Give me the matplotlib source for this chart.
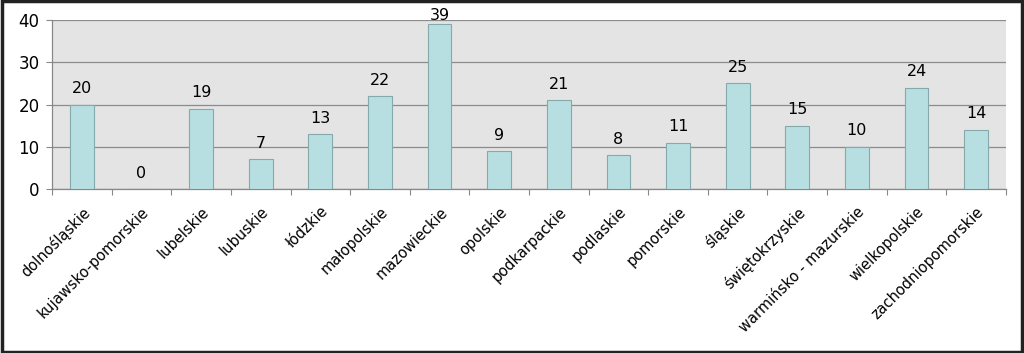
import matplotlib.pyplot as plt
import numpy as np

# dane z wykresu
wojewodztwa = ['dolnośląskie', 'kujawsko-pomorskie', 'lubelskie', 'lubuskie',
               'łódzkie', 'małopolskie', 'mazowieckie', 'opolskie',
               'podkarpackie', 'podlaskie', 'pomorskie', 'śląskie',
               'świętokrzyskie', 'warmińsko - mazurskie', 'wielkopolskie',
               'zachodniopomorskie']
wartosci = [20, 0, 19, 7, 13, 22, 39, 9, 21, 8, 11, 25, 15, 10, 24, 14]
y_ticks = [0, 10, 20, 30, 40]

plt.rcParams['font.family'] = ['DejaVu Sans']

fig = plt.figure(figsize=(10.24, 3.53), dpi=100)
ax = fig.add_axes([0.0508, 0.4646, 0.9316, 0.4787])
ax.set_facecolor('#e4e4e4')

x = np.arange(len(wojewodztwa))
bars = ax.bar(x, wartosci, width=0.4, color='#b7dee0', edgecolor='#86a9ac',
              linewidth=0.8, zorder=3)
for xi, v in zip(x, wartosci):
    # etykieta nad slupkiem, nie wyzej niz gorna krawedz wykresu
    ax.text(xi, min(v + 2, 39.3), str(v), ha='center', va='bottom',
            fontsize=11.5, zorder=4)

ax.set_xlim(-0.5, len(wojewodztwa) - 0.5)
ax.set_ylim(0, 40)
ax.set_yticks(y_ticks)
ax.tick_params(axis='y', labelsize=12, length=4, color='#888888', pad=5)
ax.yaxis.grid(True, color='#8c8c8c', linewidth=0.9, zorder=1)

# znaczniki osi x miedzy kategoriami, podpisy pod slupkami
ax.set_xticks(np.arange(len(wojewodztwa) + 1) - 0.5)
ax.set_xticklabels([])
ax.set_xticks(x, minor=True)
ax.set_xticklabels(wojewodztwa, minor=True, rotation=45, ha='right',
                   rotation_mode='anchor', fontsize=10.5)
ax.tick_params(axis='x', which='major', length=4, color='#888888')
ax.tick_params(axis='x', which='minor', length=0, pad=11)

for s in ['top', 'right']:
    ax.spines[s].set_visible(False)
for s in ['left', 'bottom']:
    ax.spines[s].set_color('#888888')
    ax.spines[s].set_linewidth(0.9)

# ramka wokol wykresu
fig.patches.append(plt.Rectangle((0.002, 0.003), 0.996, 0.994,
                                 transform=fig.transFigure, fill=False,
                                 edgecolor='#222222', linewidth=2.5))

fig.savefig('out.png', dpi=100)
